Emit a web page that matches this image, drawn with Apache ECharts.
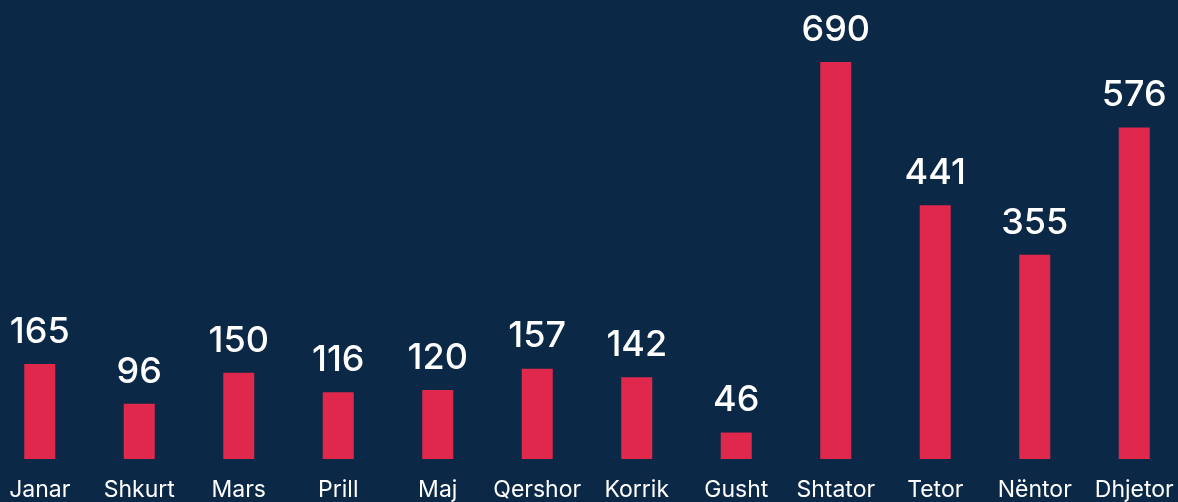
<!DOCTYPE html>
<html>
<head>
<meta charset="utf-8">
<script src="https://cdn.jsdelivr.net/npm/echarts@6/dist/echarts.min.js"></script>
<style>
html,body{margin:0;padding:0;background:#0b2846;overflow:hidden;}
#chart{width:1194px;height:502px;position:absolute;left:-10px;top:0;}
</style>
</head>
<body>
<div id="chart"></div>
<script>
const categories = ['Janar','Shkurt','Mars','Prill','Maj','Qershor','Korrik','Gusht','Shtator','Tetor','Nëntor','Dhjetor'];
const values = [165, 96, 150, 116, 120, 157, 142, 46, 690, 441, 355, 576];

const chart = echarts.init(document.getElementById('chart'), null, {renderer: 'canvas'});
chart.setOption({
  backgroundColor: '#0b2846',
  animation: false,
  grid: {left: 0, right: 0, top: 62, bottom: 43, containLabel: false},
  xAxis: {
    type: 'category',
    data: categories,
    axisLine: {show: false},
    axisTick: {show: false},
    axisLabel: {
      color: '#ffffff',
      fontFamily: 'Inter',
      fontSize: 23,
      margin: 20,
      interval: 0
    }
  },
  yAxis: {
    type: 'value',
    min: 0,
    max: 690,
    show: false,
    splitLine: {show: false}
  },
  series: [{
    type: 'bar',
    data: values,
    barWidth: 31,
    itemStyle: {color: '#e0284d'},
    label: {
      show: true,
      position: 'top',
      distance: 14,
      color: '#ffffff',
      fontFamily: 'Inter',
      fontSize: 36,
      fontWeight: 500
    }
  }]
});
</script>
</body>
</html>
